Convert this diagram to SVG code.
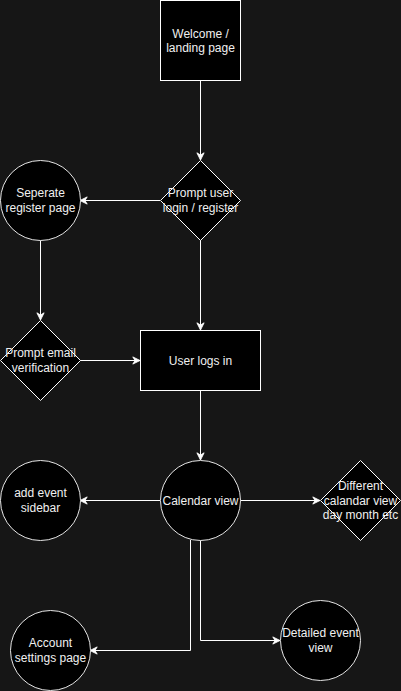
<svg xmlns="http://www.w3.org/2000/svg" width="401" height="691" viewBox="0 0 401 691">
<defs>
<marker id="arr" viewBox="0 0 10 10" refX="9" refY="5" markerWidth="9" markerHeight="9" markerUnits="userSpaceOnUse" orient="auto">
<path d="M1,1 L9,5 L1,9 L3.5,5 Z" fill="#ffffff" stroke="#ffffff" stroke-width="1"/>
</marker>
</defs>
<style>
.bg{fill:#161616}
.n{fill:#000000;stroke:#ffffff;stroke-width:1}
.c{fill:#000000;stroke:#e6e6e6;stroke-width:1}
.t{font-family:"Liberation Sans",Arial,sans-serif;font-size:12px;fill:#f0f0f0;text-anchor:middle}
.e{fill:none;stroke:#ffffff;stroke-width:1;marker-end:url(#arr)}
.l{fill:none;stroke:#ffffff;stroke-width:1}
</style>
<rect class="bg" x="0" y="0" width="401" height="691"/>
<g id="connectors">
<path class="e" d="M200.5,80 L200.5,160"/>
<path class="e" d="M160,200.5 L80,200.5"/>
<path class="e" d="M40.5,240 L40.5,320"/>
<path class="e" d="M200.5,240 L200.5,330"/>
<path class="e" d="M80,360.5 L140,360.5"/>
<path class="e" d="M200.5,390 L200.5,460"/>
<path class="e" d="M160,500.5 L80,500.5"/>
<path class="e" d="M240,500.5 L320,500.5"/>
<path class="e" d="M190.5,540 L190.5,650.5 L90,650.5"/>
<path class="e" d="M200.5,540 L200.5,640.5 L280,640.5"/>
</g>
<g id="welcome">
<rect class="n" x="160.5" y="0.5" width="80" height="80"/>
<text class="t" x="200.5" y="37.5">Welcome /</text>
<text class="t" x="200.5" y="52">landing page</text>
</g>
<g id="prompt-login">
<path class="n" d="M200.5,160.5 L240.5,200.5 L200.5,240.5 L160.5,200.5 Z"/>
<text class="t" x="200.5" y="197">Prompt user</text>
<text class="t" x="200.5" y="211.5">login / register</text>
</g>
<g id="register-page">
<circle class="c" cx="40.5" cy="200.5" r="40"/>
<text class="t" x="40.5" y="197">Seperate</text>
<text class="t" x="40.5" y="211.5">register page</text>
</g>
<g id="prompt-email">
<path class="n" d="M40.5,320.5 L80.5,360.5 L40.5,400.5 L0.5,360.5 Z"/>
<text class="t" x="40.5" y="357">Prompt email</text>
<text class="t" x="40.5" y="371.5">verification</text>
</g>
<g id="user-logs-in">
<rect class="n" x="140.5" y="330.5" width="120" height="60"/>
<text class="t" x="200.5" y="365">User logs in</text>
</g>
<g id="calendar-view">
<circle class="c" cx="200.5" cy="500.5" r="40"/>
<text class="t" x="200.5" y="505">Calendar view</text>
</g>
<g id="add-event">
<circle class="c" cx="40.5" cy="500.5" r="40"/>
<text class="t" x="40.5" y="497">add event</text>
<text class="t" x="40.5" y="511.5">sidebar</text>
</g>
<g id="different-view">
<path class="n" d="M360.5,460.5 L400.5,500.5 L360.5,540.5 L320.5,500.5 Z"/>
<text class="t" x="360.5" y="490">Different</text>
<text class="t" x="360.5" y="504.5">calandar view</text>
<text class="t" x="360.5" y="519">day month etc</text>
</g>
<g id="account-settings">
<circle class="c" cx="50.5" cy="650.5" r="40"/>
<text class="t" x="50.5" y="647">Account</text>
<text class="t" x="50.5" y="661.5">settings page</text>
</g>
<g id="detailed-event">
<circle class="c" cx="320.5" cy="640.5" r="40"/>
<text class="t" x="320.5" y="637">Detailed event</text>
<text class="t" x="320.5" y="651.5">view</text>
</g>
</svg>
